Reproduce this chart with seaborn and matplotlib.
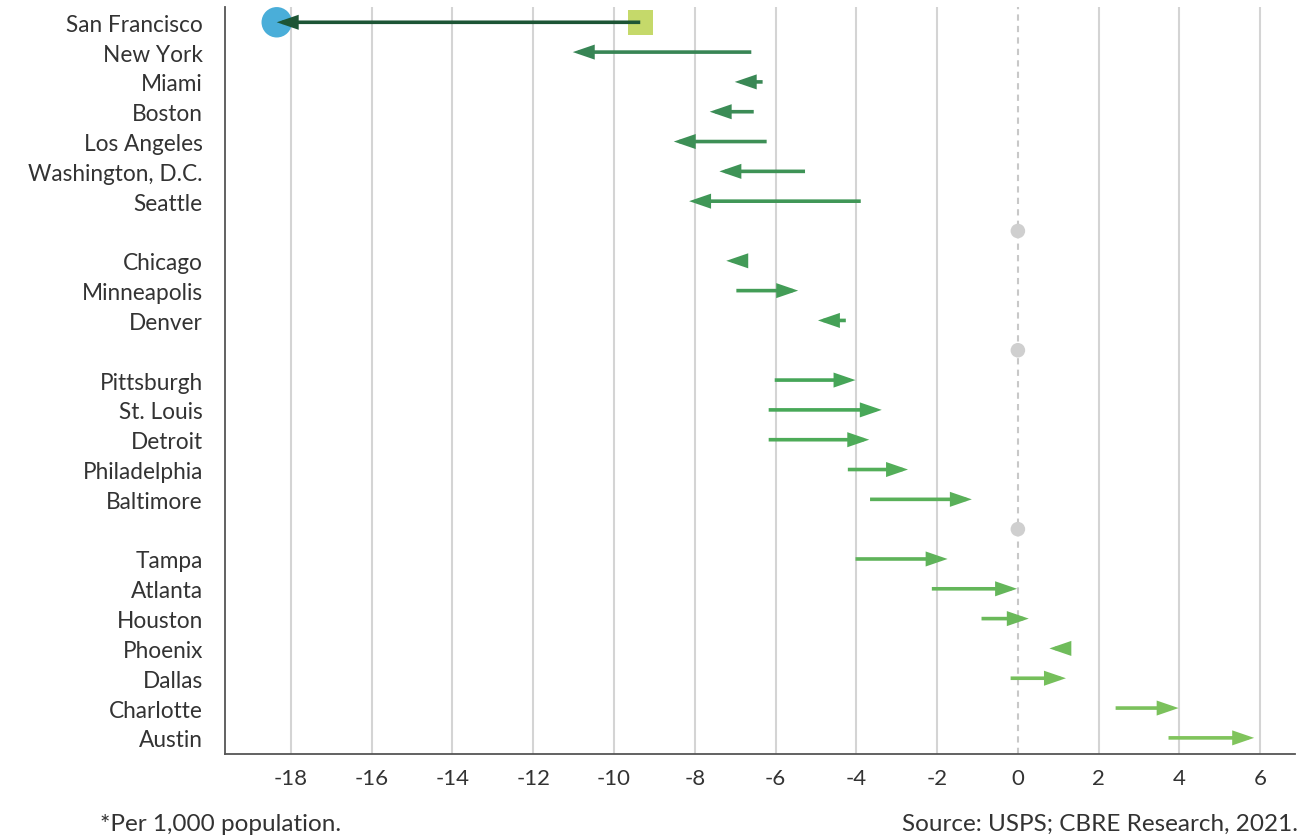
import numpy as np
import pandas as pd
import seaborn as sns
import matplotlib
matplotlib.use("Agg")
import matplotlib.pyplot as plt

# Data (per 1,000 population)
cities = ["San Francisco", "New York", "Miami", "Boston", "Los Angeles",
          "Washington, D.C.", "Seattle",
          "Chicago", "Minneapolis", "Denver",
          "Pittsburgh", "St. Louis", "Detroit", "Philadelphia", "Baltimore",
          "Tampa", "Atlanta", "Houston", "Phoenix", "Dallas", "Charlotte", "Austin"]
group = [1, 1, 1, 1, 1, 1, 1,
         2, 2, 2,
         3, 3, 3, 3, 3,
         4, 4, 4, 4, 4, 4, 4]
start_vals = [-9.35, -6.6, -6.32, -6.54, -6.22, -5.27, -3.89,
              -6.77, -6.97, -4.26,
              -6.02, -6.17, -6.17, -4.21, -3.66,
              -4.02, -2.13, -0.90, 1.24, -0.18, 2.42, 3.73]
end_vals = [-18.35, -11.02, -7.01, -7.63, -8.52, -7.39, -8.14,
            -7.22, -5.44, -4.95,
            -4.02, -3.37, -3.68, -2.72, -1.14,
            -1.74, -0.02, 0.27, 0.78, 1.19, 3.98, 5.85]
x_ticks = [-18, -16, -14, -12, -10, -8, -6, -4, -2, 0, 2, 4, 6]

df = pd.DataFrame({"city": cities, "group": group,
                   "start": start_vals, "end": end_vals})
# one blank row between groups
df["pos"] = np.arange(len(df)) + (df["group"] - 1)
gap_pos = df.groupby("group")["pos"].max().iloc[:-1] + 1
gaps = pd.DataFrame({"x": 0.0, "pos": gap_pos.values})

sns.set_style("white")
plt.rcParams["font.family"] = ["Lato", "DejaVu Sans"]
text_col = "#333333"

fig = plt.figure(figsize=(13.16, 8.37), dpi=100)
ax = fig.add_axes([0.171, 0.098, 0.813, 0.892])

# colours: dark green for SF, gradient dark->light green for the rest
pal = sns.blend_palette(["#388555", "#48a858", "#80c45c"], n_colors=len(df) - 1)
colors = ["#1d5535"] + list(pal)

# grid lines (zero line drawn dashed instead)
for t in x_ticks:
    if t != 0:
        ax.axvline(t, color="#d4d4d4", lw=1.5, zorder=0)
ax.axvline(0, color="#c8c8c8", lw=1.5, ls=(0, (3, 2.5)), zorder=1)

sns.scatterplot(data=gaps, x="x", y="pos", color="#cfcfcf", s=110,
                edgecolor="none", ax=ax, zorder=2)

# San Francisco start/end markers
sf = df.iloc[[0]]
sns.scatterplot(x=sf["start"], y=sf["pos"], marker="s", color="#c5d96a",
                s=330, edgecolor="none", ax=ax, zorder=3)
sns.scatterplot(x=sf["end"], y=sf["pos"], marker="o", color="#4aaed9",
                s=480, edgecolor="none", ax=ax, zorder=3)

for (_, row), c in zip(df.iterrows(), colors):
    ax.annotate("", xy=(row["end"], row["pos"]), xytext=(row["start"], row["pos"]),
                arrowprops=dict(arrowstyle="-|>,head_length=1.05,head_width=0.36",
                                mutation_scale=10, lw=2.6, color=c,
                                shrinkA=0, shrinkB=0,
                                joinstyle="miter", capstyle="butt"),
                zorder=4)

ax.set_xlim(-19.63, 6.86)
ax.set_ylim(24.54, -0.5)
ax.set_xticks(x_ticks)
ax.set_xticklabels([str(t) for t in x_ticks])
ax.set_yticks(df["pos"])
ax.set_yticklabels(df["city"])
ax.set_xlabel("")
ax.set_ylabel("")
ax.tick_params(axis="y", length=0, pad=16, labelsize=16.3, colors=text_col)
ax.tick_params(axis="x", length=0, pad=10, labelsize=16, colors=text_col)

for s in ["top", "right"]:
    ax.spines[s].set_visible(False)
ax.spines["left"].set_color("#555555")
ax.spines["bottom"].set_color("#555555")
ax.spines["left"].set_linewidth(1.3)
ax.spines["bottom"].set_linewidth(1.3)

fig.text(0.076, 0.0155, "*Per 1,000 population.", fontsize=17.5,
         color=text_col, va="center", ha="left")
fig.text(0.986, 0.0155, "Source: USPS; CBRE Research, 2021.", fontsize=17.5,
         color=text_col, va="center", ha="right")

fig.savefig("out.png", dpi=100)
